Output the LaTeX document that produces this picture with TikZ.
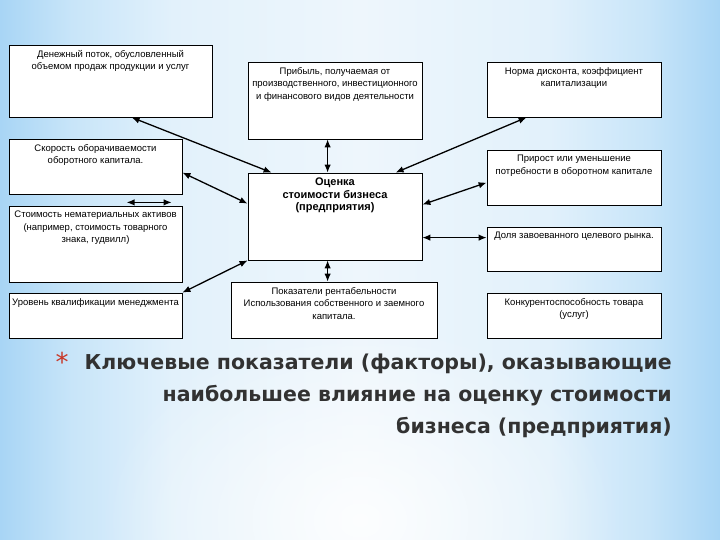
\documentclass[tikz,border=0pt]{standalone}
\usepackage{fontspec}
\setmainfont{Liberation Sans}
\newfontfamily\titlefont{DejaVu Sans}
\usetikzlibrary{arrows.meta,calc,fadings}
\definecolor{edgeblue}{RGB}{168,213,245}
\definecolor{midblue}{RGB}{200,229,249}
\definecolor{lightblue}{RGB}{226,241,251}
\definecolor{centc}{RGB}{238,246,252}
\definecolor{titlegray}{RGB}{50,50,50}
\definecolor{starred}{RGB}{200,55,40}
\pgfdeclarehorizontalshading{bgsh}{100bp}{color(0bp)=(edgeblue); color(25bp)=(edgeblue); color(30bp)=(midblue); color(37bp)=(lightblue); color(50bp)=(centc); color(63bp)=(lightblue); color(70bp)=(midblue); color(75bp)=(edgeblue); color(100bp)=(edgeblue)}
\tikzfading[name=softglow, inner color=transparent!0, outer color=transparent!100]
\newcommand\mkbox[6]{%
  \node[box,minimum width={#4-#2},minimum height={#5-#3}] (#1) at ({(#2+#4)/2},{(#3+#5)/2}) {};
  \node[boxtext] (#1t) at (#1.north) {#6};}
\begin{document}
\begin{tikzpicture}[x=1pt,y=-1pt,
  box/.style={draw=black,line width=0.8pt,fill=white,inner sep=0pt},
  boxtext/.style={anchor=north,align=center,font=\fontsize{9.5}{12.5}\selectfont,inner sep=0pt,yshift=-5.5pt},
  link/.style={line width=1.3pt,{Latex[length=8pt,width=6.5pt]}-{Latex[length=8pt,width=6.5pt]}}]
\useasboundingbox (0,0) rectangle (720,540);
\shade[shading=bgsh] (0,0) rectangle (720,540);
\fill[white,path fading=softglow,opacity=0.85] (360,520) ellipse (260 and 200);
\mkbox{A}{9}{45}{212}{117}{Денежный поток, обусловленный\\объемом продаж продукции и услуг}
\mkbox{B}{248}{62}{422}{139}{Прибыль, получаемая от\\производственного, инвестиционного\\и финансового видов деятельности}
\mkbox{C}{487}{62}{661}{117}{Норма дисконта, коэффициент\\капитализации}
\mkbox{D}{9}{139}{182}{194}{Скорость оборачиваемости\\оборотного капитала.}
\mkbox{E}{9}{206}{182}{282}{Стоимость нематериальных активов\\(например, стоимость товарного\\знака, гудвилл)}
\mkbox{F}{9}{293}{182}{338}{Уровень квалификации менеджмента}
\mkbox{G}{248}{173}{422}{260}{\bfseries\fontsize{11}{14.5}\selectfont Оценка\\\bfseries\fontsize{11}{14.5}\selectfont стоимости бизнеса\\\bfseries\fontsize{11}{14.5}\selectfont (предприятия)}
\mkbox{H}{231}{282}{437}{338}{Показатели рентабельности\\Использования собственного и заемного\\капитала.}
\mkbox{J}{487}{150}{661}{205}{Прирост или уменьшение\\потребности в оборотном капитале}
\mkbox{K}{487}{227}{661}{271}{Доля завоеванного целевого рынка.}
\mkbox{I}{487}{293}{661}{338}{Конкурентоспособность товара\\(услуг)}
\coordinate (de1) at ($(D.south west)+(118,8)$);
\coordinate (de2) at ($(D.south west)+(163,8)$);
\draw[link] ($(A.south west)+(123,0)$) -- ($(G.north west)+(24,0)$);
\draw[link] ($(B.south west)+(80,0)$) -- ($(G.north west)+(80,0)$);
\draw[link] ($(C.south west)+(40,0)$) -- ($(G.north west)+(148,0)$);
\draw[link] ($(D.north east)+(0,34)$) -- ($(G.north west)+(0,31)$);
\draw[link] (de1) -- (de2);
\draw[link] (F.north east) -- (G.south west);
\draw[link] ($(G.south west)+(80,0)$) -- ($(H.north west)+(97,0)$);
\draw[link] ($(G.north east)+(0,32)$) -- ($(J.north west)+(0,33)$);
\draw[link] ($(G.north east)+(0,65)$) -- ($(K.north west)+(0,11)$);
\node[text=starred,font=\titlefont\fontsize{26}{26}\selectfont,inner sep=0pt] (star) at (62,362) {*};
\node[anchor=north east,align=right,inner sep=0pt,text=titlegray,font=\titlefont\bfseries\fontsize{20.5}{32}\selectfont] (title) at (672,354) {Ключевые показатели (факторы), оказывающие\\наибольшее влияние на оценку стоимости\\бизнеса (предприятия)};
\end{tikzpicture}
\end{document}
